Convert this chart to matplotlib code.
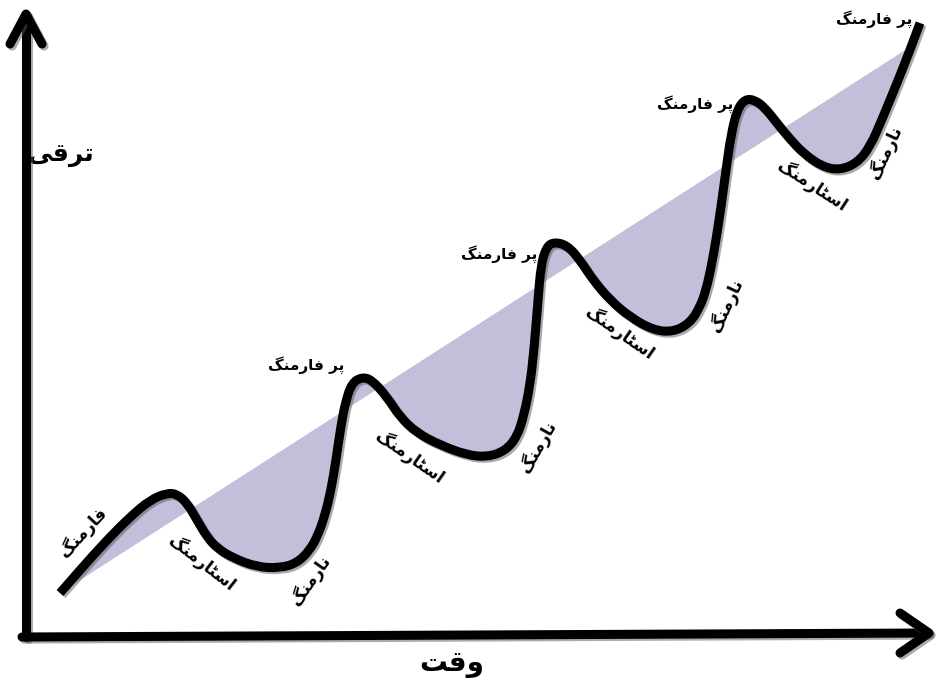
import matplotlib
matplotlib.use("Agg")
import matplotlib.pyplot as plt
import matplotlib.patheffects as pe
from matplotlib.path import Path
from matplotlib.patches import PathPatch

curve_x = [60, 80, 107, 130, 150, 167, 177, 187, 197, 207, 217, 233, 257, 280, 297,
           310, 318, 325, 331, 336, 341, 346, 352, 362, 372, 387, 400, 417, 440, 467,
           487, 505, 517, 524, 530, 534, 538, 541, 546, 553, 567, 580, 593, 610, 630,
           653, 673, 690, 700, 706, 711, 716, 721, 726, 731, 737, 745, 755, 765, 776,
           789, 804, 823, 840, 857, 870, 883, 897, 910, 920]
curve_y = [593, 570, 540, 517, 500, 493, 494, 503, 520, 537, 548, 558, 567, 568, 563,
           550, 535, 515, 490, 460, 425, 400, 383, 377, 380, 397, 417, 433, 445, 455,
           457, 451, 437, 415, 385, 350, 300, 265, 248, 242, 245, 260, 280, 300, 317,
           330, 332, 323, 307, 290, 268, 240, 207, 170, 135, 110, 99, 100, 108, 122,
           138, 154, 167, 170, 163, 147, 117, 83, 50, 23]

trend_x = [60, 913]
trend_y = [593, 45]

# label text, centre x, centre y, rotation, size
label_text = ["فارمنگ",
              "اسٹارمنگ", "نارمنگ", "پر فارمنگ",
              "اسٹارمنگ", "نارمنگ", "پر فارمنگ",
              "اسٹارمنگ", "نارمنگ", "پر فارمنگ",
              "اسٹارمنگ", "نارمنگ", "پر فارمنگ"]
label_x = [83, 202, 310, 306, 410, 538, 499, 620, 726, 695, 812, 885, 874]
label_y = [532, 563, 580, 365, 457, 447, 254, 333, 305, 104, 185, 152, 19]
label_rot = [47, -38, 55, 0, -35, 60, 0, -35, 65, 0, -33, 65, 0]
label_size = [12, 12, 12, 11, 12, 12, 11, 12, 12, 11, 12, 12, 11]

y_title = "ترقی"
x_title = "وقت"

# contextual forms: isolated, final, initial, medial
FORMS = {
    "ا": ("\uFE8D", "\uFE8E", None, None),
    "ت": ("\uFE95", "\uFE96", "\uFE97", "\uFE98"),
    "ٹ": ("\uFB66", "\uFB67", "\uFB68", "\uFB69"),
    "ر": ("\uFEAD", "\uFEAE", None, None),
    "س": ("\uFEB1", "\uFEB2", "\uFEB3", "\uFEB4"),
    "ف": ("\uFED1", "\uFED2", "\uFED3", "\uFED4"),
    "ق": ("\uFED5", "\uFED6", "\uFED7", "\uFED8"),
    "م": ("\uFEE1", "\uFEE2", "\uFEE3", "\uFEE4"),
    "ن": ("\uFEE5", "\uFEE6", "\uFEE7", "\uFEE8"),
    "و": ("\uFEED", "\uFEEE", None, None),
    "پ": ("\uFB56", "\uFB57", "\uFB58", "\uFB59"),
    "گ": ("\uFB92", "\uFB93", "\uFB94", "\uFB95"),
    "ی": ("\uFBFC", "\uFBFD", "\uFBFE", "\uFBFF"),
}


def shape(text: str) -> str:
    """Urdu -> joined presentation forms in visual (left-to-right) order."""
    out = []
    for i, ch in enumerate(text):
        if ch not in FORMS:
            out.append(ch)
            continue
        prev = text[i - 1] if i > 0 else ""
        nxt = text[i + 1] if i + 1 < len(text) else ""
        joins_prev = prev in FORMS and FORMS[prev][2] is not None
        joins_next = nxt in FORMS and FORMS[ch][2] is not None
        iso, fin, ini, med = FORMS[ch]
        if joins_prev and joins_next:
            out.append(med)
        elif joins_prev:
            out.append(fin)
        elif joins_next:
            out.append(ini)
        else:
            out.append(iso)
    return "".join(out)[::-1]


def smooth_path(xs, ys):
    pts = list(zip(xs, ys))
    verts = [pts[0]]
    codes = [Path.MOVETO]
    for i in range(1, len(pts) - 1):
        mid = ((pts[i][0] + pts[i + 1][0]) / 2, (pts[i][1] + pts[i + 1][1]) / 2)
        verts += [pts[i], mid]
        codes += [Path.CURVE3, Path.CURVE3]
    verts.append(pts[-1])
    codes.append(Path.LINETO)
    return verts, codes


fig = plt.figure(figsize=(9.36, 6.86), dpi=100)
ax = fig.add_axes([0, 0, 1, 1])
ax.set_xlim(0, 936)
ax.set_ylim(686, 0)
ax.axis("off")

verts, codes = smooth_path(curve_x, curve_y)

# shaded band between the curve and the straight trend line
fill_verts = verts + [(trend_x[1], trend_y[1]), (trend_x[0], trend_y[0]), verts[0]]
fill_codes = codes + [Path.LINETO, Path.LINETO, Path.CLOSEPOLY]
ax.add_patch(PathPatch(Path(fill_verts, fill_codes), facecolor="#c5bedb",
                       edgecolor="none", zorder=1))

shadow = [pe.SimpleLineShadow(offset=(1.5, -1.5), shadow_color="0.35", alpha=0.5), pe.Normal()]
ax.add_patch(PathPatch(Path(verts, codes), facecolor="none", edgecolor="black",
                       linewidth=6.5, capstyle="butt", joinstyle="round",
                       zorder=3, path_effects=shadow))

# axes with arrow heads
axis_kw = dict(color="black", linewidth=6.5, solid_capstyle="round",
               solid_joinstyle="round", zorder=4, path_effects=shadow)
ax.plot([26, 26], [637, 15], **axis_kw)
ax.plot([10, 26, 42], [44, 14, 44], **axis_kw)
ax.plot([22, 928], [637, 633], **axis_kw)
ax.plot([900, 929, 900], [613, 633, 653], **axis_kw)

font = ["DejaVu Sans"]
for t, x, y, r, s in zip(label_text, label_x, label_y, label_rot, label_size):
    ax.text(x, y, shape(t), rotation=r, rotation_mode="anchor", ha="center",
            va="center", fontsize=s, fontweight="bold", family=font, zorder=5)

ax.text(61, 155, shape(y_title), ha="center", va="center", fontsize=18,
        fontweight="bold", family=font)
ax.text(452, 664, shape(x_title), ha="center", va="center", fontsize=20,
        fontweight="bold", family=font)

fig.savefig("out.png", dpi=100)
